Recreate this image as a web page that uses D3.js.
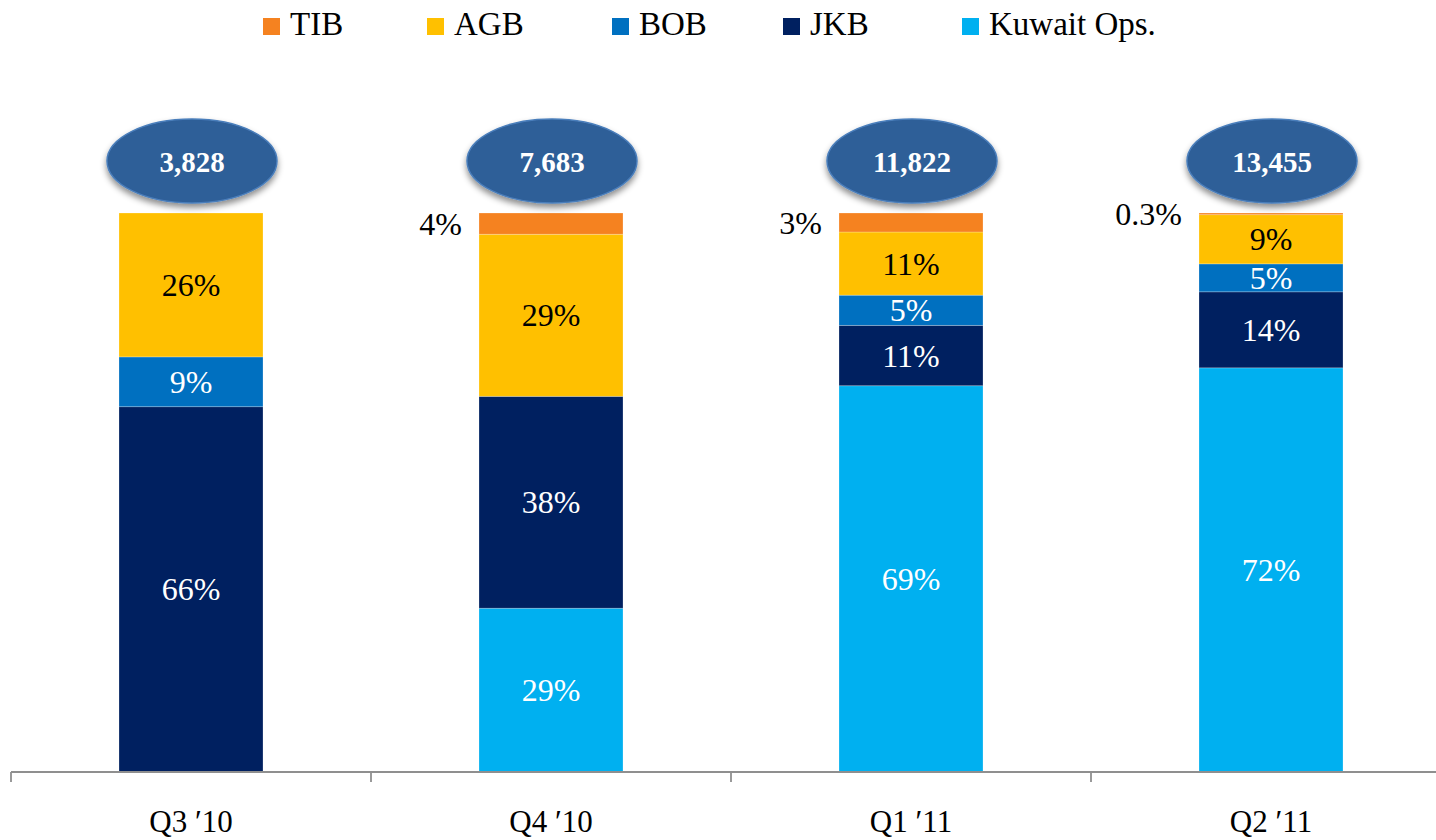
<!DOCTYPE html>
<html>
<head>
<meta charset="utf-8">
<script src="https://cdn.jsdelivr.net/npm/d3@7"></script>
<style>
  html, body { margin: 0; padding: 0; background: #fff; }
  svg { display: block; }
  text { font-family: "Liberation Serif", "Times New Roman", serif; }
</style>
</head>
<body>
<svg id="chart" width="1436" height="840"></svg>
<script>
// ---- data ----
const categories = ["Q3 \u203210", "Q4 \u203210", "Q1 \u203211", "Q2 \u203211"];
const seriesNames = ["TIB", "AGB", "BOB", "JKB", "Kuwait Ops."];
const tibValues    = [0, 3.8, 3.4, 0.3];
const agbValues    = [26, 29, 11.3, 8.8];
const bobValues    = [9, 0, 5.4, 5.0];
const jkbValues    = [66, 37.9, 10.8, 13.6];
const kuwaitValues = [0, 29.3, 69.1, 72.3];
const totals       = [3828, 7683, 11822, 13455];
const seriesColors = ["#F58220", "#FFC000", "#0070C0", "#002060", "#00B0F0"];
const labelColors  = ["#000", "#000", "#fff", "#fff", "#fff"];

// ---- layout ----
const W = 1436, H = 840;
const axisY = 772, topY = 213;
const legendX = [263, 427, 612, 783, 962];

const svg = d3.select("#chart");

const defs = svg.append("defs");
const f = defs.append("filter").attr("id", "shadow")
  .attr("x", "-20%").attr("y", "-20%").attr("width", "140%").attr("height", "150%");
f.append("feDropShadow").attr("dx", 0).attr("dy", 4).attr("stdDeviation", 3)
  .attr("flood-color", "#000").attr("flood-opacity", 0.45);

const valuesBySeries = [tibValues, agbValues, bobValues, jkbValues, kuwaitValues];
const table = categories.map((c, i) => {
  const row = { cat: c };
  seriesNames.forEach((s, j) => row[s] = valuesBySeries[j][i]);
  return row;
});

// stack bottom-up: Kuwait, JKB, BOB, AGB, TIB
const stackKeys = seriesNames.slice().reverse();
const stacked = d3.stack().keys(stackKeys).offset(d3.stackOffsetExpand)(table);

const x = d3.scaleBand().domain(categories).range([11, 1451])
  .paddingInner(0.6).paddingOuter(0.3);
const y = d3.scaleLinear().domain([0, 1]).range([axisY, topY]);
const color = d3.scaleOrdinal().domain(seriesNames).range(seriesColors);
const lblColor = d3.scaleOrdinal().domain(seriesNames).range(labelColors);

// bars
const layers = svg.append("g").selectAll("g").data(stacked).join("g")
  .attr("fill", d => color(d.key));
layers.selectAll("rect").data(d => d.map(p => ({ key: d.key, p })))
  .join("rect")
  .attr("x", d => x(d.p.data.cat))
  .attr("width", x.bandwidth())
  .attr("y", d => y(d.p[1]))
  .attr("height", d => Math.max(0, y(d.p[0]) - y(d.p[1])))
  .attr("stroke", "#ffffff").attr("stroke-opacity", 0.3).attr("stroke-width", 0.8);

// labels
const fmtPct = v => (v < 1 ? d3.format(".1f")(v) : String(Math.round(v))) + "%";
stacked.forEach(layer => {
  layer.forEach(p => {
    const v = p.data[layer.key];
    if (!v) return;
    const cy = (y(p[0]) + y(p[1])) / 2;
    if (layer.key === "TIB") {
      svg.append("text")
        .attr("x", x(p.data.cat) - 17)
        .attr("y", cy + 11)
        .attr("text-anchor", "end")
        .attr("font-size", 32)
        .attr("fill", "#000")
        .text(fmtPct(v));
    } else {
      svg.append("text")
        .attr("x", x(p.data.cat) + x.bandwidth() / 2)
        .attr("y", cy + 11)
        .attr("text-anchor", "middle")
        .attr("font-size", 32)
        .attr("fill", lblColor(layer.key))
        .text(fmtPct(v));
    }
  });
});

// axis
const axis = svg.append("g").attr("transform", `translate(0,${axisY})`);
axis.append("line").attr("x1", 11).attr("x2", W).attr("y1", 0).attr("y2", 0)
  .attr("stroke", "#8f8f8f").attr("stroke-width", 1.8);
const step = x.step();
const tickXs = categories.map(c => x(c) - x.paddingOuter() * step);
axis.selectAll("line.tick").data(tickXs).join("line").attr("class", "tick")
  .attr("x1", d => d).attr("x2", d => d).attr("y1", 0).attr("y2", 10)
  .attr("stroke", "#8f8f8f").attr("stroke-width", 1.8);
axis.selectAll("text").data(categories).join("text")
  .attr("x", d => x(d) + x.bandwidth() / 2)
  .attr("y", 60)
  .attr("text-anchor", "middle")
  .attr("font-size", 31)
  .attr("fill", "#000")
  .text(d => d);

// total bubbles
const bubbles = svg.append("g").selectAll("g").data(categories).join("g")
  .attr("transform", d => `translate(${x(d) + x.bandwidth() / 2 + 1},161)`);
bubbles.append("ellipse").attr("rx", 85).attr("ry", 42)
  .attr("fill", "#2E5E98").attr("stroke", "#4A7EBB").attr("stroke-width", 1.5)
  .attr("filter", "url(#shadow)");
bubbles.append("text").attr("y", 11).attr("text-anchor", "middle")
  .attr("font-size", 29).attr("font-weight", "bold").attr("fill", "#fff")
  .text((d, i) => d3.format(",")(totals[i]));

// legend
const legend = svg.append("g").selectAll("g").data(seriesNames).join("g")
  .attr("transform", (d, i) => `translate(${legendX[i]},0)`);
legend.append("rect").attr("x", 0).attr("y", 18).attr("width", 17).attr("height", 17)
  .attr("fill", d => color(d));
legend.append("text").attr("x", 27).attr("y", 35).attr("font-size", 33)
  .attr("fill", "#000").text(d => d);
</script>
</body>
</html>
